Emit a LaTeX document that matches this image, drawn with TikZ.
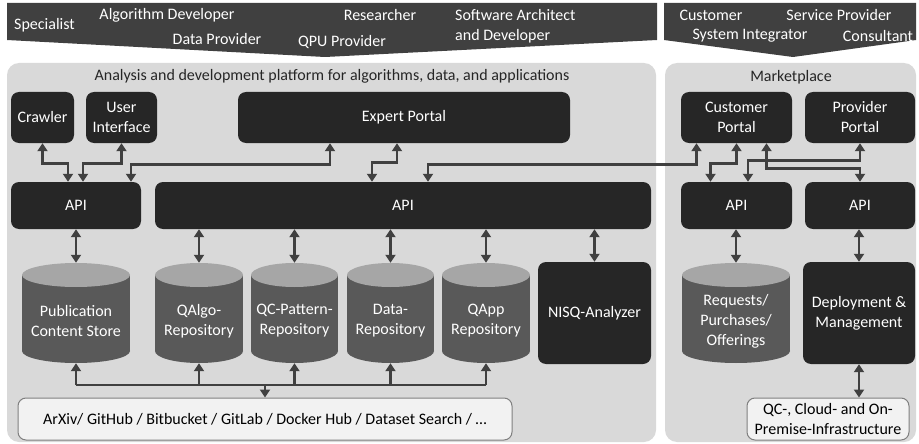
\documentclass[tikz,border=0pt]{standalone}
\usepackage{fontspec}
\setmainfont{Carlito}
\usepackage{xcolor}
\usetikzlibrary{arrows.meta}
\definecolor{banner}{HTML}{404040}
\definecolor{panel}{HTML}{D9D9D9}
\definecolor{dark}{HTML}{262626}
\definecolor{cylbody}{HTML}{595959}
\definecolor{cyltop}{HTML}{A6A6A6}
\definecolor{wire}{HTML}{404040}
\definecolor{srcfill}{HTML}{F2F2F2}
\definecolor{srcline}{HTML}{7F7F7F}
\tikzset{
  block/.style={fill=dark,rounded corners=8pt,text=white,align=center,inner sep=0pt},
  srcbox/.style={fill=srcfill,draw=srcline,line width=1pt,rounded corners=8pt,align=center,inner sep=0pt},
  storebox/.style={inner sep=0pt},
  storetext/.style={text=white,align=center,inner sep=0pt},
  role/.style={text=white,inner sep=0pt},
  wireline/.style={draw=wire,line width=2.6pt},
  link/.style={wireline,{Triangle[width=10pt,length=8pt]}-{Triangle[width=10pt,length=8pt]}},
  uplink/.style={wireline,-{Triangle[width=10pt,length=8pt]}},
}
\begin{document}
\begin{tikzpicture}[x=1pt,y=-1pt,font=\fontsize{16}{20}\selectfont]
      \useasboundingbox (0,0) rectangle (919,444);
      \fill[white] (0,0) rectangle (919,444);
      \fill[banner] (7,3) -- (657,3) -- (657,40) -- (325,57) -- (7,40) -- cycle;
      \fill[banner] (664,3) -- (916,3) -- (916,40) -- (793,57) -- (664,40) -- cycle;
      \foreach \t/\px/\py in {Specialist/44.5/25,Algorithm Developer/167/15,Data Provider/217/39,Researcher/380/15,QPU Provider/342/42,Customer/711/15,Service Provider/839/15,System Integrator/750/36,Consultant/878/36}
        \node[role] at (\px,\py) {\t};
      \node[role,anchor=west] at (455,15) {Software Architect};
      \node[role,anchor=west] at (455,36) {and Developer};
      \fill[panel,rounded corners=12pt] (7,63) rectangle (656,442);
      \fill[panel,rounded corners=12pt] (665,63) rectangle (916,442);
      \node[inner sep=0pt,text=dark] (ttlA) at (332,76) {Analysis and development platform for algorithms, data, and applications};
      \node[inner sep=0pt,text=dark] (ttlB) at (791,77) {Marketplace};
      \node[block,minimum width=63,minimum height=51] (crawler) at (42.5,117.5) {Crawler};
      \node[block,minimum width=71,minimum height=51] (ui) at (121.5,117.5) {User\\Interface};
      \node[block,minimum width=332,minimum height=51] (expert) at (404,117.5) {Expert Portal};
      \node[block,minimum width=111,minimum height=51] (cust) at (736.5,117.5) {Customer\\Portal};
      \node[block,minimum width=110,minimum height=51] (prov) at (860,117.5) {Provider\\Portal};
      \node[block,minimum width=130,minimum height=47] (apiA) at (76,205.5) {API};
      \node[block,minimum width=496,minimum height=47] (apiB) at (403,205.5) {API};
      \node[block,minimum width=111,minimum height=47] (apiC) at (736.5,205.5) {API};
      \node[block,minimum width=110,minimum height=47] (apiD) at (860,205.5) {API};
      \foreach \n/\cx/\w/\t in {pub/76/108/{Publication\\Content Store},qalgo/199/88/{QAlgo-\\Repository},qcp/294.5/87/{QC-Pattern-\\Repository},qdata/390.5/87/{Data-\\Repository},qapp/486/88/{QApp\\Repository},req/736/108/{Requests/\\Purchases/\\Offerings}} {
        \fill[cylbody] (\cx-\w/2,275) rectangle (\cx+\w/2,351);
        \fill[cylbody] (\cx,351) ellipse [x radius=\w/2,y radius=12];
        \fill[cyltop] (\cx,275) ellipse [x radius=\w/2,y radius=12];
        \node[storebox,minimum width=\w,minimum height=100] (\n) at (\cx,313) {};
        \node[storetext] at (\cx,321) {\t};
      }
      \node[block,minimum width=113,minimum height=102] (nisq) at (594.5,313) {NISQ-Analyzer};
      \node[block,minimum width=112,minimum height=102] (deploy) at (859,313) {Deployment \&\\Management};
      \node[srcbox,minimum width=494,minimum height=42] (src) at (265,419) {ArXiv/ GitHub / Bitbucket / GitLab / Docker Hub / Dataset Search / \dots};
      \node[srcbox,minimum width=162,minimum height=42] (infra) at (828,419) {QC-, Cloud- and On-\\Premise-Infrastructure};
      \draw[link] (crawler.south) -- ++(0,20) -| ([xshift=-8]apiA.north);
      \draw[link] (ui.south) -- ++(0,20) -| ([xshift=7]apiA.north);
      \draw[link] ([xshift=-74]expert.south) -- ++(0,21) -| ([xshift=55]apiA.north);
      \draw[link] ([xshift=-7]expert.south) -- ++(0,19) -| ([xshift=-31]apiB.north);
      \draw[link] ([xshift=-40]cust.south) -- ++(0,21) -| ([xshift=25]apiB.north);
      \draw[link] (cust.south) -- ++(0,20) -| ([xshift=-26]apiC.north);
      \draw[link] (prov.south) -- ++(0,17) -| ([xshift=-112]apiD.north);
      \draw[link] ([xshift=30]cust.south) -- ++(0,25) -| (apiD.north);
      \foreach \n/\a in {pub/apiA,qalgo/apiB,qcp/apiB,qdata/apiB,qapp/apiB,nisq/apiB,req/apiC,deploy/apiD}
        \draw[link] (\a.south -| \n.north) -- (\n.north);
      \coordinate (bus) at (265,385);
      \draw[wireline] (pub.south |- bus) -- (qapp.south |- bus);
      \foreach \n in {pub,qalgo,qcp,qdata,qapp}
        \draw[uplink] (\n.south |- bus) -- (\n.south);
      \draw[uplink] (bus) -- (src.north);
      \draw[link] (deploy.south) -- (deploy.south |- infra.north);
    \end{tikzpicture}
\end{document}
